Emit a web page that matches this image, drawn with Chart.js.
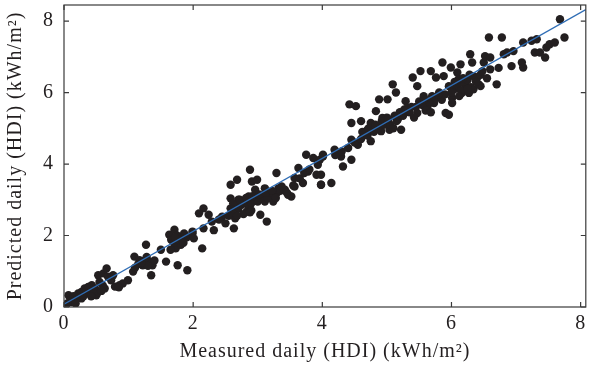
<!DOCTYPE html>
<html>
<head>
<meta charset="utf-8">
<script src="https://cdn.jsdelivr.net/npm/chart.js@4"></script>
<style>
  html, body { margin: 0; padding: 0; background: #fff; }
  #wrap { width: 590px; height: 368px; }
</style>
</head>
<body>
<div id="wrap"><canvas id="scatter" width="590" height="368"></canvas></div>
<script>
// ------------------------------
// Data
// ------------------------------

// measured daily HDI (kWh/m2)
const measured = [
    0.07, 0.14, 0.2, 0.22, 0.27, 0.32, 0.375, 0.43, 0.48, 0.5, 0.53, 0.27, 0.12,
    0.53, 0.61, 0.66, 0.68, 0.73, 0.63, 0.79, 0.86, 0.91, 0.99, 0.76,
    1.07, 1.09, 1.17, 1.22, 1.27, 1.32, 1.35, 1.37,
    1.5, 1.58, 1.63, 1.66, 1.71, 1.73, 1.76, 1.81, 1.84, 1.86, 1.91, 1.99,
    0.05, 0.1, 0.18, 0.25, 0.35, 0.4, 0.45, 0.3, 0.6, 0.55, 0.85, 1.15, 1.25, 1.3, 1.4, 1.2,
    1.75, 1.8, 1.9, 1.7, 1.65,
    1.99, 2.01, 2.14, 2.16, 2.09, 2.24, 2.16, 2.29, 2.32, 2.45, 2.5, 2.58, 2.58, 2.63, 2.65,
    2.58, 2.68, 2.7, 2.75, 2.83, 2.86, 2.88, 2.91, 2.96, 2.99, 3.01, 3.04, 3.11, 3.14, 3.11,
    3.19, 3.24, 3.29, 3.32, 3.37, 3.42, 3.47, 3.52, 3.57, 3.57, 3.63, 3.7, 3.75, 3.78, 3.86,
    3.91, 3.93, 3.98, 4.01,
    2.65, 2.7, 2.75, 2.8, 2.85, 2.9, 2.95, 3.0, 3.05, 3.1, 3.15, 2.6, 2.55, 2.4, 3.2, 3.25,
    3.3, 3.35, 2.9, 2.78,
    3.96, 3.98, 4.01, 3.98, 4.14, 4.19, 4.29, 4.32, 4.45, 4.45, 4.42, 4.52, 4.6, 4.45, 4.55,
    4.65, 4.7, 4.75, 4.83, 4.86, 4.88, 4.91, 4.93, 5.01, 5.04, 5.09, 5.14, 5.17, 5.22, 5.29,
    5.27, 5.4, 5.47, 5.52, 5.57, 5.63, 5.68, 5.73, 5.76, 5.81, 5.86, 5.88, 5.91, 5.96, 6.01,
    5.47, 5.32,
    4.2, 4.3, 4.4, 4.5, 4.6, 4.7, 4.8, 4.85, 4.95, 5.05, 5.15, 5.25, 5.35, 5.45, 5.55, 5.6,
    5.65, 5.75, 5.85, 5.9, 4.75, 5.0, 5.1,
    5.96, 6.01, 5.99, 6.04, 6.09, 6.14, 6.11, 6.16, 6.22, 6.27, 6.29, 6.32, 6.34, 6.4, 6.42,
    6.45, 6.5, 6.52, 6.58, 6.6, 6.6, 6.7, 6.73, 6.78, 6.81, 6.86, 6.93, 6.96, 7.09, 7.11,
    7.11, 7.24, 7.29, 7.32, 7.37, 7.45, 7.47, 7.52, 7.6, 7.68, 7.75,
    6.05, 6.1, 6.2, 6.25, 6.3, 6.35, 6.15, 6.0, 6.45, 6.55,
    2.62, 2.72, 2.82, 2.92, 3.02, 3.12, 3.22, 3.28, 2.68, 2.88, 3.45, 3.55, 3.65, 3.72, 3.8,
    4.62, 4.72, 4.82, 4.92, 5.02, 5.12, 5.2, 5.3, 5.38, 5.5, 5.58, 5.7, 5.8, 5.42, 5.68,
    6.05, 6.18, 6.28, 6.38, 6.48, 6.12, 6.25,
    0.15, 0.38, 0.42, 0.58, 1.1, 1.28, 1.72, 1.85
];

// predicted daily HDI (kWh/m2)
const predicted = [
    0.33, 0.28, 0.24, 0.38, 0.42, 0.52, 0.56, 0.61, 0.52, 0.33, 0.42, 0.24, 0.14,
    0.89, 0.94, 1.08, 0.85, 0.75, 0.52, 0.57, 0.61, 0.66, 0.75, 0.89,
    0.99, 1.41, 1.31, 1.17, 1.74, 1.27, 0.89, 1.17,
    1.6, 1.27, 2.02, 1.88, 2.16, 1.64, 1.17, 1.74, 1.97, 2.06, 1.03, 2.11,
    0.1, 0.2, 0.1, 0.35, 0.45, 0.38, 0.5, 0.3, 0.6, 0.7, 0.55, 1.2, 1.3, 1.15, 1.3, 1.25,
    2.0, 1.9, 1.95, 1.8, 1.6,
    2.06, 1.92, 1.64, 2.76, 2.62, 2.58, 2.2, 2.39, 2.15, 2.53, 2.34, 3.04, 2.76, 2.2, 2.48,
    3.42, 3.56, 3.0, 2.86, 2.67, 3.09, 3.84, 3.51, 3.28, 3.56, 3.04, 2.58, 2.95, 2.39, 3.32,
    3.18, 2.95, 3.75, 3.32, 3.37, 3.28, 3.14, 3.09, 3.61, 3.37, 3.89, 3.47, 4.26, 3.79, 4.17,
    3.7, 3.98, 3.42, 4.21,
    2.8, 2.75, 2.9, 2.95, 2.85, 2.9, 3.0, 2.95, 3.05, 3.1, 3.05, 2.65, 2.55, 2.45, 3.2, 3.15,
    3.2, 3.25, 2.7, 2.6,
    4.12, 3.7, 4.26, 3.42, 3.47, 4.4, 4.21, 3.93, 4.12, 4.68, 5.67, 5.62, 5.2, 5.15, 4.54,
    4.82, 4.96, 4.64, 5.48, 5.06, 5.81, 4.92, 5.29, 5.81, 4.96, 6.23, 6.0, 5.25, 4.96, 5.76,
    5.53, 6.42, 5.43, 6.6, 5.9, 5.62, 6.6, 5.71, 6.42, 6.0, 6.84, 6.46, 5.43, 6.18, 5.85,
    6.18, 5.57,
    4.25, 4.35, 4.45, 4.6, 4.7, 4.8, 4.9, 5.0, 5.1, 5.1, 5.2, 5.35, 5.45, 5.6, 5.65, 5.5,
    5.75, 5.85, 5.8, 5.95, 5.15, 5.3, 5.0,
    5.38, 5.71, 6.7, 6.13, 6.56, 6.79, 6.37, 5.99, 6.18, 5.99, 7.07, 6.84, 6.09, 6.42, 6.23,
    6.18, 6.84, 7.02, 7.54, 6.98, 6.65, 6.23, 6.69, 7.54, 7.07, 7.12, 6.74, 7.16, 6.84, 6.7,
    7.4, 7.45, 7.12, 7.49, 7.12, 6.98, 7.26, 7.35, 7.4, 8.05, 7.54,
    6.1, 6.2, 6.3, 6.35, 6.15, 6.45, 6.05, 6.0, 6.5, 6.4,
    2.9, 3.0, 3.05, 3.1, 3.15, 3.2, 3.25, 3.05, 2.55, 2.65, 3.2, 3.4, 3.6, 3.75, 3.85,
    4.9, 5.0, 5.1, 5.2, 5.25, 5.35, 5.45, 5.5, 5.6, 5.75, 5.8, 5.9, 5.95, 5.3, 5.45,
    6.3, 6.4, 6.5, 6.3, 6.6, 5.9, 6.1,
    0.3, 0.55, 0.3, 0.45, 1.1, 1.4, 1.95, 1.8
];

// fitted line end points
const fitX = [0, 8.08];
const fitY = [0.08, 8.32];

const xTicks = [0, 2, 4, 6, 8];
const yTicks = [0, 2, 4, 6, 8];

// -----------------------------
// Frame + inward ticks
// -----------------------------
const framePlugin = {
    id: "frame",
    beforeDraw(chart) {
        chart.ctx.letterSpacing = "1px";
    },
    afterDatasetsDraw(chart) {
        const ctx = chart.ctx;
        const a = chart.chartArea;
        const xs = chart.scales.x;
        const ys = chart.scales.y;
        ctx.save();
        ctx.strokeStyle = "#3a3a3a";
        ctx.lineWidth = 1.2;
        ctx.strokeRect(a.left, a.top, a.right - a.left, a.bottom - a.top);
        ctx.beginPath();
        xTicks.forEach(v => {
            const px = xs.getPixelForValue(v);
            ctx.moveTo(px, a.bottom); ctx.lineTo(px, a.bottom - 5);
            ctx.moveTo(px, a.top); ctx.lineTo(px, a.top + 5);
        });
        yTicks.forEach(v => {
            const py = ys.getPixelForValue(v);
            ctx.moveTo(a.left, py); ctx.lineTo(a.left + 5, py);
            ctx.moveTo(a.right, py); ctx.lineTo(a.right - 5, py);
        });
        ctx.stroke();
        ctx.restore();
    }
};

const serif = "'Liberation Serif', 'DejaVu Serif', serif";

new Chart(document.getElementById("scatter"), {
    type: "scatter",
    data: {
        datasets: [
            {
                type: "line",
                data: fitX.map((x, i) => ({ x: x, y: fitY[i] })),
                borderColor: "#2f6db5",
                borderWidth: 1.3,
                pointRadius: 0,
                fill: false,
                order: 0
            },
            {
                data: measured.map((x, i) => ({ x: x, y: predicted[i] })),
                backgroundColor: "#231f20",
                borderColor: "#231f20",
                borderWidth: 0,
                pointRadius: 4.2,
                order: 1
            }
        ]
    },
    options: {
        responsive: false,
        animation: false,
        events: [],
        layout: { padding: { top: 5, right: 1, left: 0, bottom: 0 } },
        plugins: { legend: { display: false }, tooltip: { enabled: false } },
        scales: {
            x: {
                type: "linear",
                min: 0,
                max: 8.08,
                afterBuildTicks: s => { s.ticks = xTicks.map(v => ({ value: v })); },
                afterFit: s => {
                    s.height = 61;
                    s.paddingLeft = 0;
                    s.paddingRight = 0;
                    // the "8" label would otherwise push the frame in by ~5px
                    if (s._margins) { s._margins.left = 0; s._margins.right = 0; }
                },
                grid: { display: false, drawTicks: false },
                border: { display: false },
                ticks: {
                    color: "#231f20",
                    padding: 5,
                    maxRotation: 0,
                    font: { family: serif, size: 20 }
                },
                title: {
                    display: true,
                    text: "Measured daily (HDI) (kWh/m²)",
                    color: "#231f20",
                    padding: { top: 2, bottom: 4 },
                    font: { family: serif, size: 20 }
                }
            },
            y: {
                type: "linear",
                min: 0,
                max: 8.45,
                afterBuildTicks: s => { s.ticks = yTicks.map(v => ({ value: v })); },
                afterFit: s => { s.width = 64; s.paddingTop = 0; s.paddingBottom = 0; },
                grid: { display: false, drawTicks: false },
                border: { display: false },
                ticks: {
                    color: "#231f20",
                    padding: 10,
                    font: { family: serif, size: 20 }
                },
                title: {
                    display: true,
                    text: "Predicted daily (HDI) (kWh/m²)",
                    color: "#231f20",
                    padding: { top: 4, bottom: 2 },
                    font: { family: serif, size: 20 }
                }
            }
        }
    },
    plugins: [framePlugin]
});
</script>
</body>
</html>
